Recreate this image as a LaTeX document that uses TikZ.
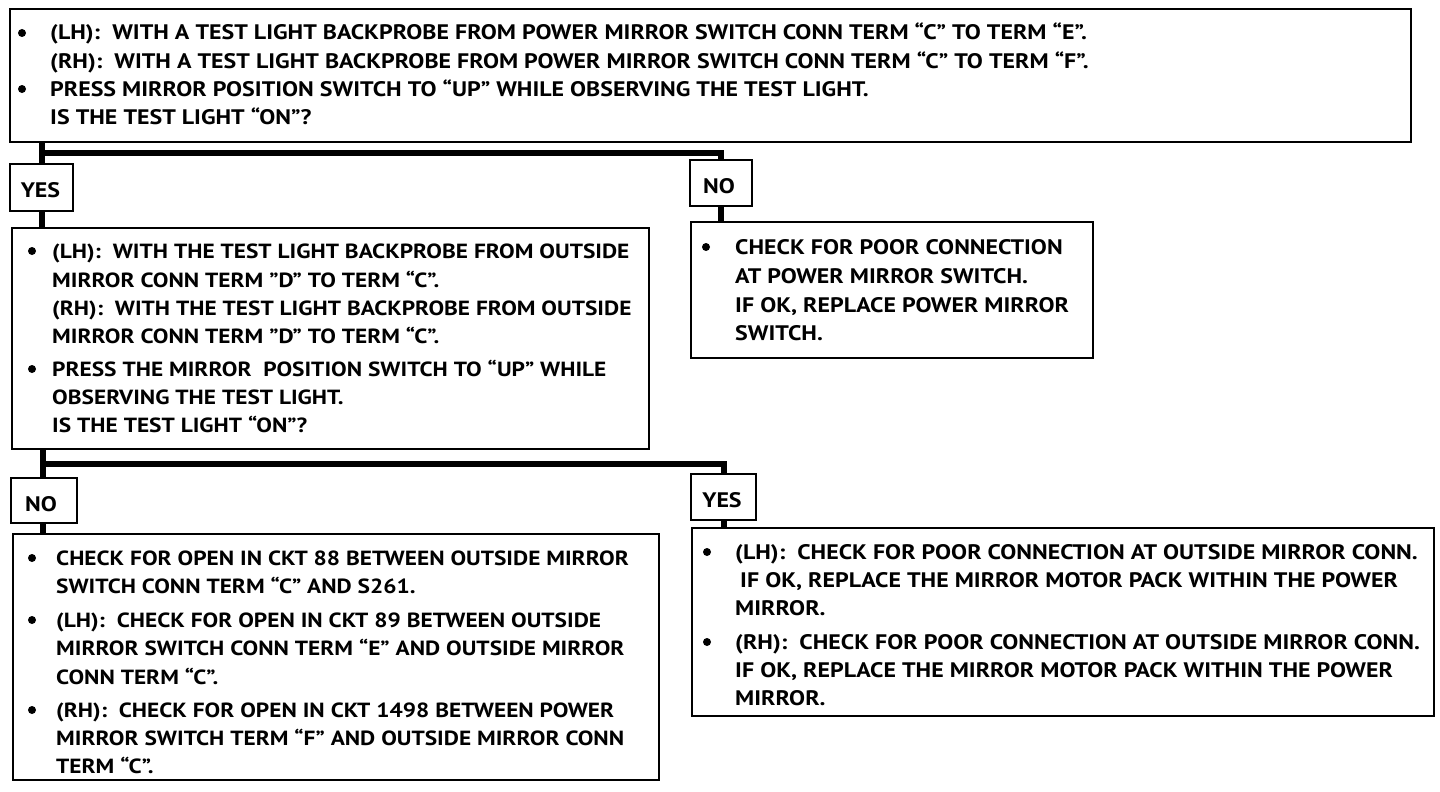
\documentclass[tikz,border=0pt]{standalone}
\usepackage{fontspec}
\setmainfont{PT Sans}[FakeStretch=1.14]
\begin{document}
\begin{tikzpicture}[x=1pt,y=-1pt,
  box/.style={draw, line width=2pt, rectangle, inner sep=0pt, anchor=north west},
  conn/.style={line width=6pt},
  txt/.style={anchor=base west, inner sep=0pt, font=\bfseries\fontsize{21}{25}\selectfont},
  txtn/.style={anchor=base west, inner sep=0pt, font=\bfseries\fontsize{20.5}{25}\selectfont},
  bul/.style={circle, fill, inner sep=0pt, minimum size=8pt},
  lbl/.style={anchor=base, inner sep=0pt, font=\bfseries\fontsize{21}{25}\selectfont}]
\useasboundingbox (0,0) rectangle (1440,792);
% boxes
\node[box, minimum width=1401pt, minimum height=133pt] (b1) at (9,8) {};
\node[box, minimum width=63pt, minimum height=47pt] (yes1) at (9,163) {};
\node[box, minimum width=62pt, minimum height=46pt] (no1) at (689,159) {};
\node[box, minimum width=637pt, minimum height=221pt] (b2) at (11,227) {};
\node[box, minimum width=402pt, minimum height=136pt] (b3) at (690,221) {};
\node[box, minimum width=66pt, minimum height=45pt] (no2) at (10,477) {};
\node[box, minimum width=65pt, minimum height=46pt] (yes2) at (690,473) {};
\node[box, minimum width=646pt, minimum height=246pt] (b4) at (12,533) {};
\node[box, minimum width=742pt, minimum height=188pt] (b5) at (691,527) {};
% labels
\node[lbl] (tyes1) at (40.5,197) {YES};
\node[lbl] (tno1) at (719,193) {NO};
\node[lbl] (tno2) at (41,511) {NO};
\node[lbl] (tyes2) at (722,507) {YES};
% connectors
\coordinate (j1) at (42,153);
\coordinate (j2) at (43,464);
\draw[conn] (j1 |- b1.south) -- (j1 |- yes1.north);
\draw[conn] (j1) -| (no1.north);
\draw[conn] (j1 |- yes1.south) -- (j1 |- b2.north);
\draw[conn] (no1.south) -- (no1.south |- b3.north);
\draw[conn] (j2 |- b2.south) -- (j2 |- no2.north);
\draw[conn] (j2) -| (yes2.north);
\draw[conn] (j2 |- no2.south) -- (j2 |- b4.north);
\draw[conn] (yes2.south) -- (yes2.south |- b5.north);
% box 1 text
\node[bul] (b1p1) at (22,33) {};
\node[bul] (b1p2) at (22,89) {};
\node[txt] (b1l1) at (50,40) {(LH):~~WITH A TEST LIGHT BACKPROBE FROM POWER MIRROR SWITCH CONN TERM “C” TO TERM “E”.};
\node[txt] (b1l2) at (50,68) {(RH):~~WITH A TEST LIGHT BACKPROBE FROM POWER MIRROR SWITCH CONN TERM “C” TO TERM “F”.};
\node[txt] (b1l3) at (50,96) {PRESS MIRROR POSITION SWITCH TO “UP” WHILE OBSERVING THE TEST LIGHT.};
\node[txt] (b1l4) at (50,124) {IS THE TEST LIGHT “ON”?};
% box 2 text
\node[bul] (b2p1) at (32,251) {};
\node[bul] (b2p2) at (32,369) {};
\node[txtn] (b2l1) at (52,258) {(LH):~~WITH THE TEST LIGHT BACKPROBE FROM OUTSIDE};
\node[txtn] (b2l2) at (52,287) {MIRROR CONN TERM ”D” TO TERM “C”.};
\node[txtn] (b2l3) at (52,315) {(RH):~~WITH THE TEST LIGHT BACKPROBE FROM OUTSIDE};
\node[txtn] (b2l4) at (52,343) {MIRROR CONN TERM ”D” TO TERM “C”.};
\node[txtn] (b2l5) at (52,376) {PRESS THE MIRROR~~POSITION SWITCH TO “UP” WHILE};
\node[txtn] (b2l6) at (52,404) {OBSERVING THE TEST LIGHT.};
\node[txtn] (b2l7) at (52,432) {IS THE TEST LIGHT “ON”?};
% box 3 text
\node[bul] (b3p1) at (706,247) {};
\node[txt] (b3l1) at (735,254) {CHECK FOR POOR CONNECTION};
\node[txt] (b3l2) at (735,283) {AT POWER MIRROR SWITCH.};
\node[txt] (b3l3) at (735,312) {IF OK, REPLACE POWER MIRROR};
\node[txt] (b3l4) at (735,340) {SWITCH.};
% box 4 text
\node[bul] (b4p1) at (32,558) {};
\node[bul] (b4p2) at (32,620) {};
\node[bul] (b4p3) at (32,710) {};
\node[txtn] (b4l1) at (56,565) {CHECK FOR OPEN IN CKT 88 BETWEEN OUTSIDE MIRROR};
\node[txtn] (b4l2) at (56,593) {SWITCH CONN TERM “C” AND S261.};
\node[txtn] (b4l3) at (56,627) {(LH):~~CHECK FOR OPEN IN CKT 89 BETWEEN OUTSIDE};
\node[txtn] (b4l4) at (56,655) {MIRROR SWITCH CONN TERM “E” AND OUTSIDE MIRROR};
\node[txtn] (b4l5) at (56,684) {CONN TERM “C”.};
\node[txtn] (b4l6) at (56,717) {(RH):~~CHECK FOR OPEN IN CKT 1498 BETWEEN POWER};
\node[txtn] (b4l7) at (56,745) {MIRROR SWITCH TERM “F” AND OUTSIDE MIRROR CONN};
\node[txtn] (b4l8) at (56,773) {TERM “C”.};
% box 5 text
\node[bul] (b5p1) at (707,552) {};
\node[bul] (b5p2) at (707,642) {};
\node[txt] (b5l1) at (735,559) {(LH):~~CHECK FOR POOR CONNECTION AT OUTSIDE MIRROR CONN.};
\node[txt] (b5l2) at (740,587) {IF OK, REPLACE THE MIRROR MOTOR PACK WITHIN THE POWER};
\node[txt] (b5l3) at (735,615) {MIRROR.};
\node[txt] (b5l4) at (735,649) {(RH):~~CHECK FOR POOR CONNECTION AT OUTSIDE MIRROR CONN.};
\node[txt] (b5l5) at (735,677) {IF OK, REPLACE THE MIRROR MOTOR PACK WITHIN THE POWER};
\node[txt] (b5l6) at (735,705) {MIRROR.};
\end{tikzpicture}
\end{document}
